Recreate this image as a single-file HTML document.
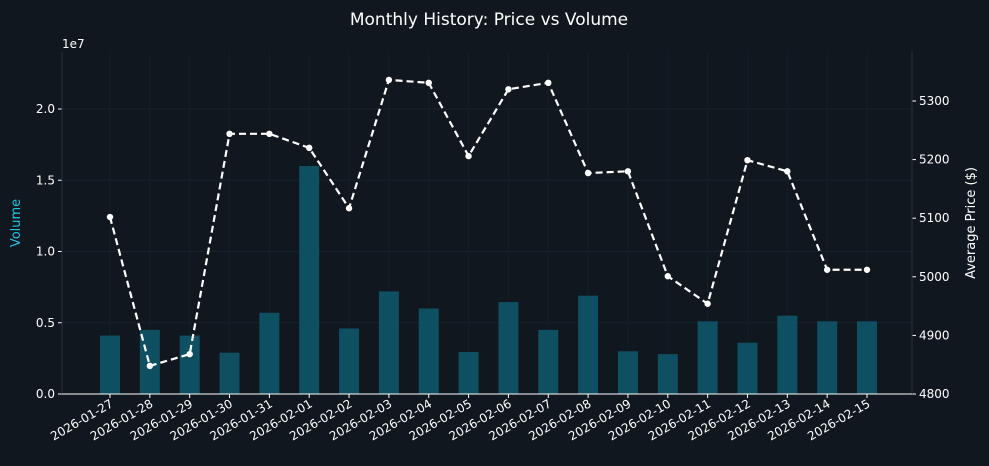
<!DOCTYPE html>
<html><head><meta charset="utf-8">
<style>
html,body{margin:0;padding:0;background:#10171e;}
svg{display:block;font-family:"DejaVu Sans","Liberation Sans",sans-serif;}
</style></head>
<body>
<svg id="chart" width="989" height="466" viewBox="0 0 989 466">
<rect width="989" height="466" fill="#10171e"/>
<text x="489" y="25" text-anchor="middle" font-size="17" fill="#ffffff">Monthly History: Price vs Volume</text>
<g id="grid"></g>
<g id="bars"></g>
<g id="line"></g>
<g id="axes"></g>
</svg>
<script>
const categories=["2026-01-27","2026-01-28","2026-01-29","2026-01-30","2026-01-31","2026-02-01","2026-02-02","2026-02-03","2026-02-04","2026-02-05","2026-02-06","2026-02-07","2026-02-08","2026-02-09","2026-02-10","2026-02-11","2026-02-12","2026-02-13","2026-02-14","2026-02-15"];
const volumes=[4.1e6,4.5e6,4.1e6,2.9e6,5.7e6,16.0e6,4.6e6,7.2e6,6.0e6,2.95e6,6.45e6,4.5e6,6.9e6,3.0e6,2.8e6,5.1e6,3.6e6,5.5e6,5.1e6,5.1e6];
const prices=[5102,4848,4868,5244,5244,5220,5117,5336,5331,5206,5320,5331,5177,5180,5001,4954,5199,5180,5012,5012];
const volTicks=[0,0.5e7,1.0e7,1.5e7,2.0e7];
const volTickLabels=["0.0","0.5","1.0","1.5","2.0"];
const priceTicks=[4800,4900,5000,5100,5200,5300];

const NS="http://www.w3.org/2000/svg";
const L=62,R=912,T=52,B=394;
const vMax=2.4e7,pMin=4800,pMax=5383.6;
const xPos=i=>110+i*(867-110)/(categories.length-1);
const yVol=v=>B-(v/vMax)*(B-T);
const yPrice=p=>B-(p-pMin)/(pMax-pMin)*(B-T);
function mk(tag,attrs,parent){const e=document.createElementNS(NS,tag);for(const k in attrs)e.setAttribute(k,attrs[k]);parent.appendChild(e);return e;}
const grid=document.getElementById('grid'),bars=document.getElementById('bars'),line=document.getElementById('line'),axes=document.getElementById('axes');

volTicks.forEach((v,i)=>{
 const g=mk('line',{x1:L,x2:R,y1:yVol(v),y2:yVol(v),stroke:'#18222a','stroke-width':1},grid);
 
 
 mk('line',{x1:L-4,x2:L,y1:yVol(v),y2:yVol(v),stroke:'#ffffff'},axes);
 const t=mk('text',{x:L-7,y:yVol(v)+4,'text-anchor':'end','font-size':12,fill:'#ffffff'},axes);
 t.textContent=volTickLabels[i];
 
 
});
categories.forEach((c,i)=>{
 const g=mk('line',{x1:xPos(i),x2:xPos(i),y1:T,y2:B,stroke:'#151f27','stroke-width':1},grid);
 
 
 const b=mk('rect',{x:xPos(i)-10,y:yVol(volumes[i]),width:20,height:B-yVol(volumes[i]),fill:'#0e4f62'},bars);
 
 
 mk('line',{x1:xPos(i),x2:xPos(i),y1:B,y2:B+4,stroke:'#ffffff'},axes);
 const t=mk('text',{x:xPos(i)+4,y:B+12,'text-anchor':'end','font-size':12,fill:'#ffffff',transform:`rotate(-30 ${xPos(i)+4} ${B+12})`},axes);
 t.textContent=c;
 
 
});
priceTicks.forEach(p=>{
 mk('line',{x1:R,x2:R+4,y1:yPrice(p),y2:yPrice(p),stroke:'#ffffff'},axes);
 const t=mk('text',{x:R+7,y:yPrice(p)+4,'font-size':12,fill:'#ffffff'},axes);
 t.textContent=p;
 
 
});
const pl=mk('polyline',{points:prices.map((p,i)=>xPos(i)+','+yPrice(p)).join(' '),fill:'none',stroke:'#ffffff','stroke-width':2.2,'stroke-dasharray':'7,4'},line);


prices.forEach((p,i)=>{
 const c=mk('circle',{cx:xPos(i),cy:yPrice(p),r:3.2,fill:'#ffffff'},line);
 
 
});
[[L,'left'],[R,'right']].forEach(([x,n])=>{
 const a=mk('line',{x1:x,x2:x,y1:T,y2:B,stroke:'#2a333b'},axes);
 
 
});
const xb=mk('line',{x1:L,x2:R,y1:B,y2:B,stroke:'#ffffff'},axes);


const off=mk('text',{x:62,y:48,'font-size':12,fill:'#ffffff'},axes);off.textContent='1e7';


const yl=mk('text',{x:20,y:223,'text-anchor':'middle','font-size':13,fill:'#22c5e6',transform:'rotate(-90 20 223)'},axes);yl.textContent='Volume';


const yr=mk('text',{x:975,y:223,'text-anchor':'middle','font-size':13,fill:'#ffffff',transform:'rotate(-90 975 223)'},axes);yr.textContent='Average Price ($)';


</script>
</body></html>
